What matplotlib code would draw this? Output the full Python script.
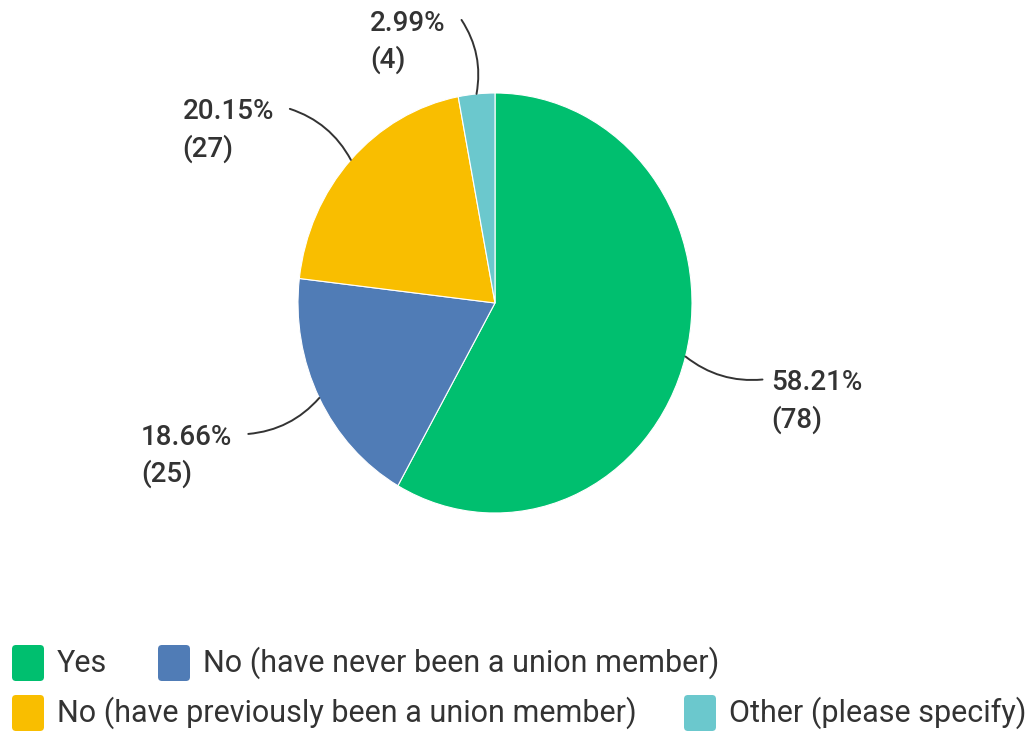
import numpy as np
import matplotlib

matplotlib.use("Agg")
import matplotlib.pyplot as plt
from matplotlib.patches import FancyBboxPatch

plt.rcParams["font.family"] = ["Roboto", "DejaVu Sans"]

categories = [
    "Yes",
    "No (have never been a union member)",
    "No (have previously been a union member)",
    "Other (please specify)",
]
percents = [58.21, 18.66, 20.15, 2.99]
counts = [78, 25, 27, 4]
colors = ["#00BF6F", "#507CB6", "#F9BE00", "#6BC8CD"]

TEXT = "#333333"
W, H = 1030, 734
CX, CY = 495, 303          # pie centre in pixels (from top-left)
RX, RY = 197, 210          # horizontal / vertical radius in pixels

fig = plt.figure(figsize=(W / 100, H / 100), dpi=100)
ax = fig.add_axes([0, 0, 1, 1])
wedges, _ = ax.pie(percents, colors=colors, startangle=90, counterclock=False,
                   radius=1, center=(0, 0),
                   wedgeprops=dict(edgecolor="white", linewidth=0.8))
ax.set_aspect("auto")
ax.set_xlim(-CX / RX, (W - CX) / RX)
ax.set_ylim(-(H - CY) / RY, CY / RY)
ax.axis("off")

# leader line end (pixel offset from wedge edge), label side, curvature
leaders = [
    ((77, -23), "left", -0.2),
    ((-71, -36), "right", 0.2),
    ((-61, 51), "right", -0.2),
    ((-15, 74), "right", -0.2),
]
for w, pct, n, (off, side, rad) in zip(wedges, percents, counts, leaders):
    mid = np.deg2rad((w.theta1 + w.theta2) / 2)
    edge = (np.cos(mid), np.sin(mid))
    ax.annotate("", xy=edge, xytext=off, textcoords="offset pixels",
                arrowprops=dict(arrowstyle="-", color=TEXT, lw=1.4,
                                connectionstyle=f"arc3,rad={rad}",
                                shrinkA=0, shrinkB=0))
    gap = 9 if side == "left" else -16
    ax.annotate(f"{pct:.2f}%\n({n})", xy=edge,
                xytext=(off[0] + gap, off[1] - 22), textcoords="offset pixels",
                ha=side, va="center", multialignment="left",
                fontsize=20, fontweight="medium", color=TEXT, linespacing=1.42)

# legend laid out in pixel coordinates
lax = fig.add_axes([0, 0, 1, 1], facecolor="none")
lax.set_xlim(0, W)
lax.set_ylim(H, 0)
lax.axis("off")
legend_pos = [(12, 663), (158, 663), (12, 713), (684, 713)]
for name, c, (x, y) in zip(categories, colors, legend_pos):
    lax.add_patch(FancyBboxPatch((x, y - 18), 32, 36,
                                 boxstyle="round,pad=0,rounding_size=4",
                                 facecolor=c, edgecolor="none"))
    lax.text(x + 45, y, name, ha="left", va="center", fontsize=22,
             color=TEXT)

fig.savefig("out.png", dpi=100)
